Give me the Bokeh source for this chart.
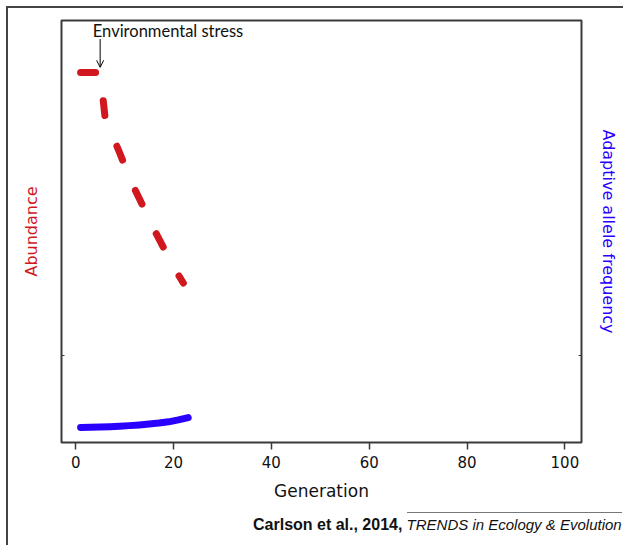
from bokeh.plotting import figure
from bokeh.layouts import column
from bokeh.models import (Range1d, LinearAxis, FixedTicker, Label, Arrow, OpenHead,
                          ColumnDataSource, Div)
from bokeh.embed import file_html
from bokeh.resources import INLINE

# ---- data ----
generations = list(range(1, 23))
abundance = [87.1, 87.1, 87.1, 87.1, 87.1, 76.5, 73.3, 70.8, 68.0, 65.1, 62.3, 59.6,
             57.2, 54.8, 52.3, 49.9, 47.7, 45.5, 43.2, 41.0, 39.1, 37.2]
freq_generations = [1, 3, 5, 7, 9, 11, 13, 15, 17, 19, 21, 23]
allele_frequency = [2.95, 3.0, 3.07, 3.16, 3.27, 3.40, 3.56, 3.76, 4.0, 4.3, 4.75, 5.3]
x_ticks = [0, 20, 40, 60, 80, 100]
y_ticks = [20]
stress_generation = 5
stress_label = "Environmental stress"
credit_bold = "Carlson et al., 2014,"
credit_italic = "TRENDS in Ecology &amp; Evolution"

RED = "#d0181e"
BLUE = "#2a00ff"
FRAME = "#3a3a3a"

p = figure(width=615, height=498, output_backend="svg", toolbar_location=None,
           x_range=Range1d(-2.9, 103.4), y_range=Range1d(-0.6, 99.4),
           frame_width=520, frame_height=422,
           min_border_left=53, min_border_top=12, min_border_right=42, min_border_bottom=64,
           y_axis_location=None, margin=0)
p.xgrid.grid_line_color = None
p.ygrid.grid_line_color = None
p.outline_line_color = FRAME
p.outline_line_width = 2
p.background_fill_color = "white"
p.border_fill_color = "white"

# x axis
xa = p.xaxis[0]
xa.ticker = FixedTicker(ticks=x_ticks)
xa.axis_line_color = None
xa.major_tick_line_color = FRAME
xa.major_tick_line_width = 1.5
xa.major_tick_out = 7
xa.major_tick_in = 0
xa.minor_tick_line_color = None
xa.major_label_text_font = "DejaVu Sans"
xa.major_label_text_font_size = "15px"
xa.major_label_text_color = "#111111"
xa.major_label_standoff = 6
xa.axis_label = "Generation"
xa.axis_label_text_font = "DejaVu Sans"
xa.axis_label_text_font_style = "normal"
xa.axis_label_text_font_size = "17px"
xa.axis_label_text_color = "#111111"
xa.axis_label_standoff = 10

# left and right axes
for side, label, color, standoff in (("left", "Abundance", RED, 21),
                                     ("right", "Adaptive allele frequency", BLUE, 17)):
    ax = LinearAxis(ticker=FixedTicker(ticks=y_ticks))
    ax.axis_line_color = None
    ax.major_tick_line_color = FRAME
    ax.major_tick_in = 3
    ax.major_tick_out = 0
    ax.minor_tick_line_color = None
    ax.major_label_overrides = {20: ""}
    ax.major_label_text_font_size = "1px"
    ax.major_label_standoff = 0
    ax.axis_label = label
    ax.axis_label_text_font = "DejaVu Sans"
    ax.axis_label_text_font_style = "normal"
    ax.axis_label_text_font_size = "16px"
    ax.axis_label_text_color = color
    ax.axis_label_standoff = standoff
    p.add_layout(ax, side)

# lines
src_a = ColumnDataSource(dict(x=generations, y=abundance))
src_f = ColumnDataSource(dict(x=freq_generations, y=allele_frequency))
p.line("x", "y", source=src_f, line_color=BLUE, line_width=7, line_cap="round",
       line_join="round")
p.line("x", "y", source=src_a, line_color=RED, line_width=7, line_cap="round",
       line_join="round", line_dash="15 33")

# annotation: environmental stress
p.add_layout(Arrow(end=OpenHead(size=7, line_width=1, line_color="black"),
                   x_start=stress_generation, y_start=95.0,
                   x_end=stress_generation, y_end=88.3,
                   line_width=1, line_color="black"))
p.add_layout(Label(x=3.5, y=96.9, text=stress_label, text_baseline="middle",
                   text_font="Lato", text_font_size="16.5px", text_color="#111111"))

# credit line below the chart
credit = Div(
    text=('<div style="padding-left:245px; padding-top:6px; font-family:\'Liberation Sans\';'
          ' font-size:15px; line-height:17px; color:#111; white-space:nowrap;">'
          '<span style="font-weight:bold; font-size:16px;">' + credit_bold + '</span> '
          '<span style="display:inline-block; font-style:italic; border-top:1px solid #777;'
          ' padding-top:3px; line-height:17px;">' + credit_italic + '</span></div>'),
    width=615, height=39, margin=0)

layout = column(p, credit, margin=(6, 0, 0, 6),
                styles={"border-left": "2px solid #444", "border-top": "2px solid #444"})

open("out.html", "w").write(file_html(layout, INLINE))
